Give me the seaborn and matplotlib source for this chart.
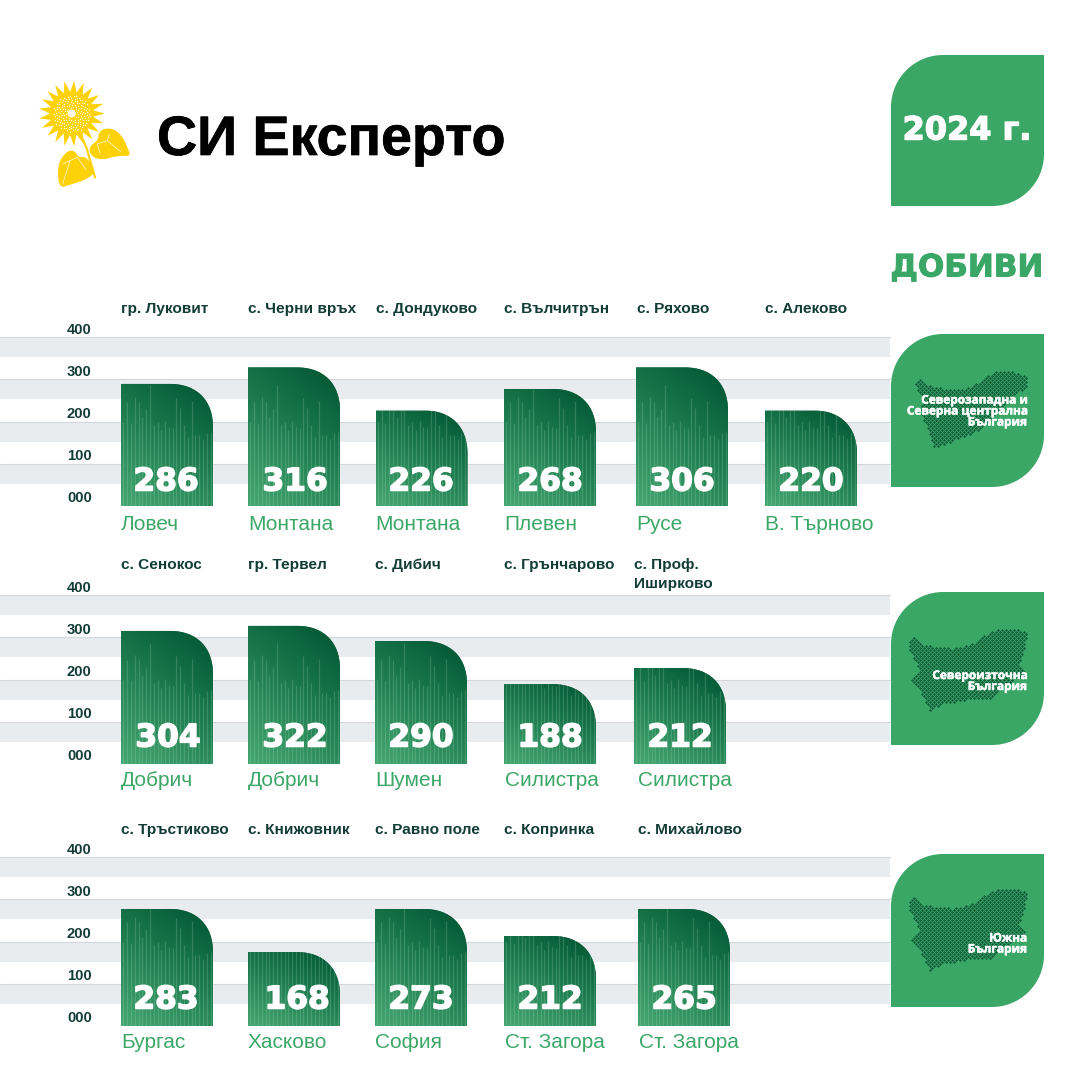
import numpy as np
import pandas as pd
import matplotlib
matplotlib.use("Agg")
import matplotlib.pyplot as plt
import seaborn as sns
from matplotlib.path import Path
from matplotlib.patches import PathPatch, Polygon, Circle
from matplotlib.colors import LinearSegmentedColormap
from matplotlib.transforms import ScaledTranslation
import matplotlib.patheffects as pe

# ---------- data ----------
cities_1 = ["Ловеч", "Монтана", "Монтана", "Плевен", "Русе", "В. Търново"]
places_1 = ["гр. Луковит", "с. Черни връх", "с. Дондуково", "с. Вълчитрън", "с. Ряхово", "с. Алеково"]
labels_1 = [286, 316, 226, 268, 306, 220]
drawn_1 = [289, 328, 226, 277, 328, 226]

cities_2 = ["Добрич", "Добрич", "Шумен", "Силистра", "Силистра"]
places_2 = ["с. Сенокос", "гр. Тервел", "с. Дибич", "с. Грънчарово", "с. Проф.\nИширково"]
labels_2 = [304, 322, 290, 188, 212]
drawn_2 = [315, 327, 291, 189, 227]

cities_3 = ["Бургас", "Хасково", "София", "Ст. Загора", "Ст. Загора"]
places_3 = ["с. Тръстиково", "с. Книжовник", "с. Равно поле", "с. Копринка", "с. Михайлово"]
labels_3 = [283, 168, 273, 212, 265]
drawn_3 = [277, 175, 277, 213, 277]

y_ticks = [0, 100, 200, 300, 400]
y_tick_labels = ["000", "100", "200", "300", "400"]
regions = ["Северозападна и\nСеверна централна\nБългария",
           "Североизточна\nБългария",
           "Южна\nБългария"]
# height (px) of the decorative stripes printed inside each bar
stripe_px = [84, 104, 83, 109, 104, 89, 97, 121, 81, 84, 76, 85, 79, 78, 108, 98, 81, 69, 105, 71, 71, 67, 73, 74]

# ---------- layout (pixels) ----------
PX_PER_UNIT = 0.4225
BAR_W = 92
rows = [
    dict(base=506, cities=cities_1, places=places_1, labels=labels_1, drawn=drawn_1,
         bar_x=[121, 248, 375.5, 504, 636, 765], place_x=[121, 248, 376, 504, 637, 765],
         city_x=[121, 248, 375, 504, 636, 765], val_x=[166, 295, 421, 550, 682, 811],
         place_y=308, city_y=524, val_dy=24, panel_y=334),
    dict(base=764, cities=cities_2, places=places_2, labels=labels_2, drawn=drawn_2,
         bar_x=[121, 248, 375, 504, 634], place_x=[121, 248, 375, 504, 634],
         city_x=[121, 248, 375, 505, 638], val_x=[168, 295, 421, 550, 680],
         place_y=564, city_y=781, val_dy=26, panel_y=592),
    dict(base=1026, cities=cities_3, places=places_3, labels=labels_3, drawn=drawn_3,
         bar_x=[121, 248, 375, 504, 638], place_x=[121, 248, 375, 504, 638],
         city_x=[121, 248, 375, 505, 639], val_x=[166, 297, 421, 550, 684],
         place_y=829, city_y=1043, val_dy=26, panel_y=854),
]

GREEN = "#3ba766"
DARK = "#123c36"
sns.set_theme(style="white")
plt.rcParams["font.family"] = ["Liberation Sans", "DejaVu Sans"]
W = 1080
fig = plt.figure(figsize=(10.8, 10.8), dpi=100, facecolor="white")
cmap = LinearSegmentedColormap.from_list("g", ["#43a671", "#2c8d5c", "#167348", "#045a36"])


def heavy(lw, color="white"):
    return [pe.withStroke(linewidth=lw, foreground=color)]


def bar_path(x0, x1, top, r_px=43):
    ry = r_px / PX_PER_UNIT
    k = 0.62
    v = [(x0, 0), (x0, top), (x1 - r_px, top),
         (x1 - r_px * (1 - k), top), (x1, top - ry * (1 - k)), (x1, top - ry),
         (x1, 0), (x0, 0)]
    c = [Path.MOVETO, Path.LINETO, Path.LINETO, Path.CURVE4, Path.CURVE4, Path.CURVE4, Path.LINETO, Path.CLOSEPOLY]
    return Path(v, c)


for row in rows:
    ax = fig.add_axes([0, 1 - row["base"] / W, 890 / W, 400 * PX_PER_UNIT / W])
    df = pd.DataFrame({"pos": [x + BAR_W / 2 for x in row["bar_x"]], "v": row["drawn"]})
    sns.barplot(data=df, x="pos", y="v", native_scale=True, color="#1d7a4c",
                errorbar=None, ax=ax, zorder=3)
    ax.set_xlim(0, 890)
    ax.set_ylim(0, 400)
    ax.set_xlabel("")
    ax.set_ylabel("")
    ax.set_xticks([])
    for t in y_ticks[1:]:
        ax.axhspan(t - 20 / PX_PER_UNIT, t, color="#e9ecef", lw=0, zorder=1)
        ax.axhline(t, color="#d3d7db", lw=0.8, zorder=1.5, clip_on=False)
    ax.set_yticks(y_ticks)
    ax.set_yticklabels(y_tick_labels, fontsize=10.6, fontweight="bold", color=DARK)
    ax.tick_params(axis="y", length=0, pad=-66)
    off = ScaledTranslation(0, 9 / 100, fig.dpi_scale_trans)
    for lab in ax.get_yticklabels():
        lab.set_transform(lab.get_transform() + off)
        lab.set_ha("right")
    sns.despine(ax=ax, left=True, bottom=True, top=True, right=True)
    ax.patch.set_visible(False)

    for patch, x, h in zip(ax.patches, row["bar_x"], row["drawn"]):
        patch.set_x(x)
        patch.set_width(BAR_W)
        patch.set_edgecolor("none")
        clip = PathPatch(bar_path(x, x + BAR_W, patch.get_height()), transform=ax.transData)
        patch.set_clip_path(clip)
        # diagonal gradient
        n = 120
        xx, yy = np.meshgrid(np.linspace(0, 1, n), np.linspace(0, 1, n))
        img = np.clip(0.72 * yy + 0.38 * xx - 0.02, 0, 1)
        im = ax.imshow(img, extent=(x, x + BAR_W, 0, h), origin="lower", cmap=cmap, vmin=0, vmax=1,
                       aspect="auto", zorder=3.2, interpolation="bilinear")
        im.set_clip_path(clip)
        # stripes
        sx = x + 0.5 + (np.arange(len(stripe_px)) + 0.5) * (BAR_W - 1) / len(stripe_px)
        sh = np.array(stripe_px) / PX_PER_UNIT
        lc = ax.vlines(sx, 0, sh, colors="#bfe8cf", alpha=0.20, lw=0.9, zorder=3.4)
        lc.set_clip_path(clip)
    ax.set_xlim(0, 890)
    ax.set_ylim(0, 400)

    for x, v in zip(row["val_x"], row["labels"]):
        ax.text(x, row["val_dy"] / PX_PER_UNIT, str(v), ha="center", va="center", color="white",
                fontsize=22.5, fontweight="bold", family="DejaVu Sans", zorder=5, path_effects=heavy(1.1))

# overlay in pixel coordinates
ov = fig.add_axes([0, 0, 1, 1], zorder=10)
ov.set_xlim(0, W)
ov.set_ylim(W, 0)
ov.axis("off")


def leaf_panel(x0, y0, x1, y1, r=52):
    k = 0.55
    v = [(x0 + r, y0), (x1, y0), (x1, y1 - r), (x1, y1 - r * (1 - k)), (x1 - r * (1 - k), y1), (x1 - r, y1),
         (x0, y1), (x0, y0 + r), (x0, y0 + r * (1 - k)), (x0 + r * (1 - k), y0), (x0 + r, y0), (x0 + r, y0)]
    c = [Path.MOVETO, Path.LINETO, Path.LINETO, Path.CURVE4, Path.CURVE4, Path.CURVE4,
         Path.LINETO, Path.LINETO, Path.CURVE4, Path.CURVE4, Path.CURVE4, Path.CLOSEPOLY]
    ov.add_patch(PathPatch(Path(v, c), fc=GREEN, ec="none", zorder=2))


leaf_panel(891, 55, 1044, 206)
ov.text(967, 131, "2024 г.", color="white", fontsize=23, fontweight="bold", family="DejaVu Sans",
        ha="center", va="center", zorder=3, path_effects=heavy(1.0))
ov.text(1043.5, 268, "ДОБИВИ", color=GREEN, fontsize=22.3, fontweight="bold", family="DejaVu Sans",
        ha="right", va="center", zorder=3, path_effects=heavy(0.7, GREEN))

# map dots: decorative silhouettes
map_1 = [(105, 185), (125, 175), (140, 195), (190, 205), (260, 205), (300, 185), (340, 155), (390, 150), (445, 170),
         (440, 200), (400, 230), (345, 290), (310, 320), (270, 345), (200, 370), (165, 385), (150, 350), (135, 310),
         (120, 270), (130, 240), (115, 215)]
map_2 = [(25, 65), (45, 50), (60, 70), (100, 80), (160, 85), (210, 75), (250, 45), (290, 30), (345, 25), (385, 40),
         (375, 70), (370, 100), (355, 130), (380, 165), (345, 180), (320, 195), (290, 215), (275, 240), (220, 235),
         (175, 245), (130, 250), (90, 270), (80, 250), (60, 215), (35, 180), (60, 150), (45, 120), (30, 90)]
maps = [(map_1, 880, 320), (map_2, 900, 620), (map_2, 900, 880)]
text_y = [411, 681, 943.5]
for row, (poly, ox, oy), txt, y in zip(rows, maps, regions, text_y):
    leaf_panel(891, row["panel_y"], 1044, row["panel_y"] + 153)
    P = np.array(poly, float) / 3 + [ox, oy]
    path = Path(P)
    gx, gy = np.meshgrid(np.arange(900, 1040, 4.0), np.arange(oy, oy + 130, 2.0))
    gx = gx + (np.arange(gx.shape[0]) % 2)[:, None] * 2
    pts = np.c_[gx.ravel(), gy.ravel()]
    pts = pts[path.contains_points(pts)]
    ov.scatter(pts[:, 0], pts[:, 1], s=2.2, marker="D", c="#0d5636", lw=0, zorder=3)
    ov.text(1027, y, txt, color="white", fontsize=8.5, fontweight="bold", family="Open Sans",
            ha="right", va="center", multialignment="right", linespacing=0.8, zorder=4, path_effects=heavy(0.4))

# place names and city names
for row in rows:
    for x, name in zip(row["place_x"], row["places"]):
        ov.text(x, row["place_y"] - 6, name, fontsize=11.1, fontweight="bold", color=DARK, ha="left", va="top",
                linespacing=1.42, zorder=4)
    for x, name in zip(row["city_x"], row["cities"]):
        ov.text(x, row["city_y"], name, fontsize=15, color=GREEN, ha="left", va="center", zorder=4)

# title
ov.text(157, 135, "СИ Експерто", fontsize=40, fontweight="bold", color="black", ha="left", va="center_baseline",
        zorder=4, path_effects=heavy(0.5, "black"))

# sunflower logo
YEL = "#fdd209"


def chaikin(p, n=3):
    p = np.array(p, float)
    for _ in range(n):
        q = np.roll(p, -1, axis=0)
        p = np.c_[0.75 * p + 0.25 * q, 0.25 * p + 0.75 * q].reshape(-1, 2)
    return p


cx, cy = 71.7, 113.5
N = 21
th = np.arange(N) * 2 * np.pi / N
for t in th:
    tip = (cx + 33 * np.cos(t), cy + 33 * np.sin(t))
    d = 2 * np.pi / N * 0.62
    ov.add_patch(Polygon([tip, (cx + 20 * np.cos(t - d), cy + 20 * np.sin(t - d)),
                          (cx + 20 * np.cos(t + d), cy + 20 * np.sin(t + d))], fc=YEL, ec="none", zorder=3))
ov.add_patch(Circle((cx, cy), 22, fc=YEL, ec="none", zorder=3))
k = np.arange(12, 170)
ang = k * np.deg2rad(137.508)
rad = 1.42 * np.sqrt(k)
ov.scatter(cx + rad * np.cos(ang), cy + rad * np.sin(ang), s=0.9, c="white", lw=0, zorder=4)
ov.add_patch(Circle((cx, cy), 4, fc="white", ec="none", zorder=4, alpha=0.95))
org = np.array([20, 70])
right_leaf = [(205, 232), (235, 210), (235, 190), (250, 176), (282, 176), (308, 200), (328, 245), (330, 258), (290, 258),
              (245, 270), (215, 260)]
left_leaf = [(120, 354), (112, 310), (120, 268), (145, 241), (165, 243), (175, 262), (197, 260), (216, 285), (224, 312),
             (190, 332), (150, 344)]
for lf in (right_leaf, left_leaf):
    ov.add_patch(Polygon(chaikin(np.array(lf) / 3 + org, 2), fc=YEL, ec="none", zorder=3))
ov.plot(*(np.array([(178, 185), (200, 235), (225, 322)]) / 3 + org).T, color=YEL, lw=1.6, zorder=3)
for vein in ([(232, 222), (262, 212), (302, 245)], [(262, 212), (268, 192)], [(232, 222), (240, 250)],
             [(172, 262), (150, 272), (128, 342)], [(172, 262), (198, 298)], [(150, 272), (128, 282)]):
    ov.plot(*(np.array(vein) / 3 + org).T, color="white", lw=0.5, alpha=0.85, zorder=4)

fig.savefig("out.png", dpi=100)
